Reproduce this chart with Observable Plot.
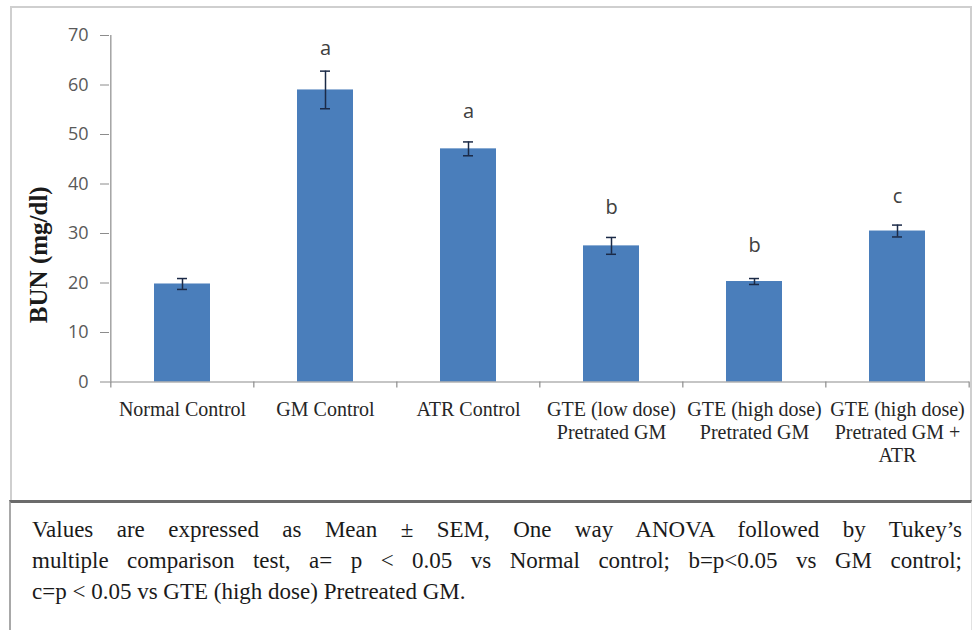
<!DOCTYPE html>
<html><head><meta charset="utf-8">
<script src="https://cdn.jsdelivr.net/npm/d3@7"></script>
<script src="https://cdn.jsdelivr.net/npm/@observablehq/plot@0.6"></script>
<style>
body{margin:0;background:#fff;}
#wrap{position:relative;width:975px;height:630px;overflow:hidden;background:#fff;}
#chart{position:absolute;left:0;top:0;}
#frame{position:absolute;left:10px;top:6px;width:962px;height:496px;border:2px solid #cfcfcf;border-bottom:none;box-sizing:border-box;pointer-events:none;}
#caption{position:absolute;left:9px;top:500px;width:963px;height:140px;border-top:3px solid #6b6b6b;border-left:2px solid #a8a8a8;border-right:1px solid #e2e2e2;box-sizing:border-box;padding:11px 9px 0 21px;font-family:"Liberation Serif","DejaVu Serif",serif;font-size:23px;line-height:31px;color:#1a1a1a;}
#caption div{white-space:nowrap;}
#caption .j{text-align:justify;text-align-last:justify;white-space:normal;}
</style>
</head><body>
<div id="wrap">
  <div id="chart"></div>
  <div id="frame"></div>
  <div id="caption"></div>
</div>
<script>
// ---- data ----
const categories = [
  "Normal Control",
  "GM Control",
  "ATR Control",
  "GTE (low dose)\nPretrated GM",
  "GTE (high dose)\nPretrated GM",
  "GTE (high dose)\nPretrated GM +\nATR"
];
const means = [19.8, 59.0, 47.1, 27.5, 20.3, 30.5];
const sems  = [1.1, 3.8, 1.4, 1.7, 0.6, 1.2];
const letters  = ["", "a", "a", "b", "b", "c"];
const letterAt = [null, 66.0, 53.4, 34.0, 26.2, 36.1];
const yTicks = [0, 10, 20, 30, 40, 50, 60, 70];
const yLabel = "BUN (mg/dl)";
const captionLines = [
  "Values are expressed as Mean ± SEM, One way ANOVA followed by Tukey’s",
  "multiple comparison test, a= p < 0.05 vs Normal control; b=p<0.05 vs GM control;",
  "c=p < 0.05 vs GTE (high dose) Pretreated GM."
];

// ---- chart ----
const W = 975, H = 500, mL = 109, mR = 6, mT = 35, mB = 118.5;
const step = (W - mL - mR) / categories.length;
const data = categories.map((c, i) => ({c, v: means[i], e: sems[i], l: letters[i], ly: letterAt[i]}));
const axisColor = "#8c8c8c";
const errColor = "#1b2a47";

const chart = Plot.plot({
  width: W, height: H,
  marginLeft: mL, marginRight: mR, marginTop: mT, marginBottom: mB,
  x: {domain: categories, paddingInner: 0.61, paddingOuter: 0.305, label: null},
  y: {domain: [0, 70], label: null},
  marks: [
    Plot.barY(data, {x: "c", y: "v", fill: "#4A7EBB"}),
    Plot.ruleX(data, {x: "c", y1: d => d.v - d.e, y2: d => d.v + d.e, stroke: errColor, strokeWidth: 1.5}),
    Plot.tickY(data, {x: "c", y: d => d.v + d.e, insetLeft: 23, insetRight: 23, stroke: errColor, strokeWidth: 1.5}),
    Plot.tickY(data, {x: "c", y: d => d.v - d.e, insetLeft: 23, insetRight: 23, stroke: errColor, strokeWidth: 1.5}),
    Plot.ruleY([0], {stroke: axisColor, strokeWidth: 1.2}),
    Plot.ruleX([categories[0]], {x: d => d, dx: -step / 2, y1: 0, y2: 70, stroke: axisColor, strokeWidth: 1.2}),
    Plot.ruleX(categories, {x: d => d, dx: -step / 2, y1: 0, y2: 0, insetBottom: -6, stroke: axisColor, strokeWidth: 1.2}),
    Plot.ruleX([categories[categories.length - 1]], {x: d => d, dx: step / 2, y1: 0, y2: 0, insetBottom: -6, stroke: axisColor, strokeWidth: 1.2}),
    Plot.axisY({ticks: yTicks, tickSize: 9, tickPadding: 12, stroke: axisColor, fill: "#595959", fontSize: 18, fontFamily: "Open Sans", label: null}),
    Plot.axisX({tickSize: 0, tickPadding: 17, fontSize: 20, fontFamily: "Liberation Serif", fill: "#262626", lineHeight: 1.17, label: null}),
    Plot.text(data.filter(d => d.l), {x: "c", y: "ly", text: "l", lineAnchor: "bottom", fontSize: 20, fontFamily: "Open Sans", fill: "#404040"}),
    Plot.text([yLabel], {frameAnchor: "left", textAnchor: "middle", dx: -71, dy: 46, rotate: -90, text: d => d, fontSize: 25, fontWeight: "bold", fontFamily: "Liberation Serif", fill: "#1a1a1a"})
  ]
});
document.getElementById("chart").appendChild(chart);

const cap = document.getElementById("caption");
captionLines.forEach((t, i) => {
  const div = document.createElement("div");
  div.textContent = t;
  if (i < captionLines.length - 1) div.className = "j";
  cap.appendChild(div);
});
</script>
</body></html>
